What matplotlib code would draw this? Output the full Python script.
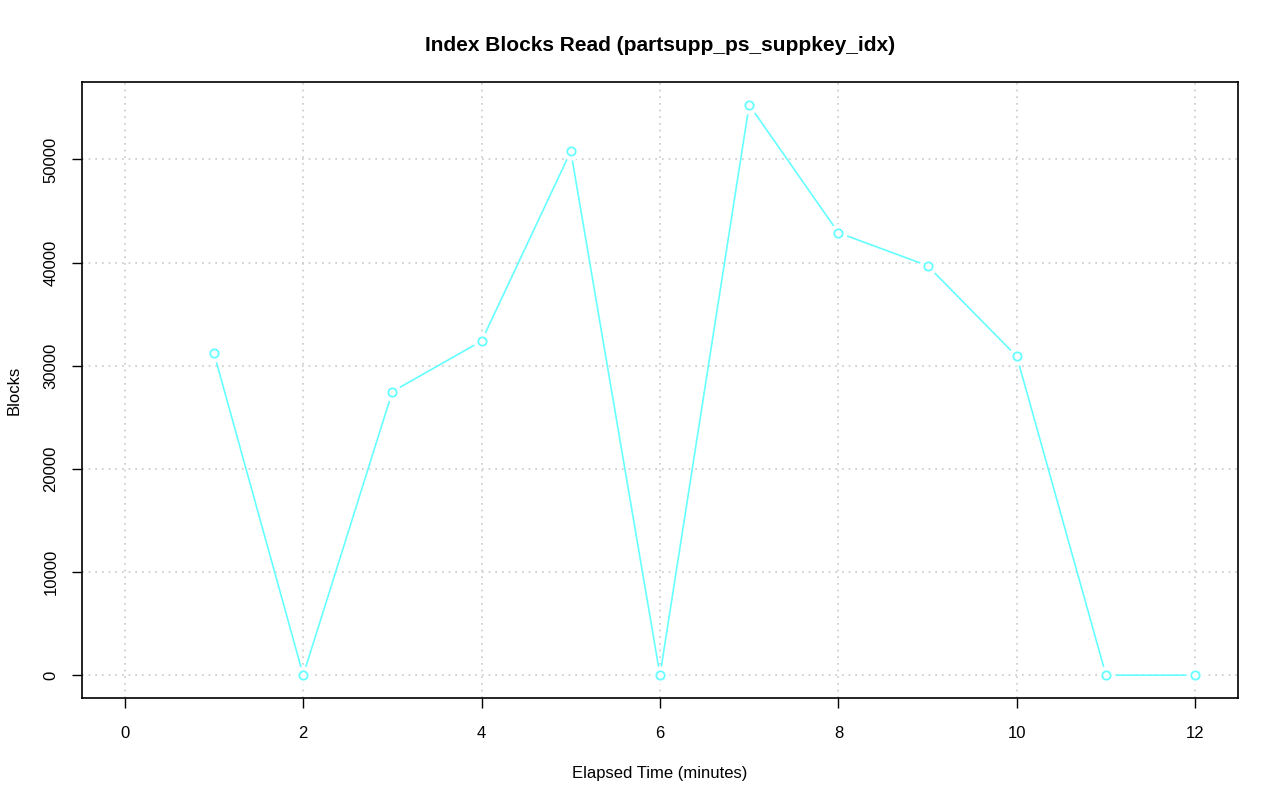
import matplotlib
matplotlib.use("Agg")
import matplotlib.pyplot as plt

minutes = [1, 2, 3, 4, 5, 6, 7, 8, 9, 10, 11, 12]
blocks = [31200, 0, 27500, 32400, 50800, 0, 55300, 42900, 39700, 30900, 0, 0]
x_ticks = [0, 2, 4, 6, 8, 10, 12]
y_ticks = [0, 10000, 20000, 30000, 40000, 50000]

plt.rcParams['font.family'] = ['Liberation Sans', 'DejaVu Sans']

fig = plt.figure(figsize=(12.8, 8.01), dpi=100)
ax = fig.add_axes([82 / 1280, 103 / 801, 1156 / 1280, 616 / 801])

line_color = '#66FFFF'
# R type="b": line with gaps around the points
ax.plot(minutes, blocks, color=line_color, lw=1.2, zorder=2)
ax.plot(minutes, blocks, ls='none', marker='o', ms=12, mfc='white', mec='white', zorder=3)
ax.plot(minutes, blocks, ls='none', marker='o', ms=6, mfc='white', mec=line_color, mew=1.3, zorder=4)

xmax = 12
ymax = max(blocks)
ax.set_xlim(-0.04 * xmax, xmax * 1.04)
ax.set_ylim(-0.04 * ymax, ymax * 1.04)
ax.set_xticks(x_ticks)
ax.set_yticks(y_ticks)
ax.set_yticklabels([str(v) for v in y_ticks], rotation=90, va='center')
ax.tick_params(labelsize=12, length=7, width=1)
ax.tick_params(axis='x', pad=13)
ax.tick_params(axis='y', pad=10)
ax.grid(True, color='#c8c8c8', ls=(0, (1, 3)), lw=1.2, zorder=0)
ax.set_axisbelow(True)
for s in ax.spines.values():
    s.set_linewidth(1.2)

ax.set_title('Index Blocks Read (partsupp_ps_suppkey_idx)', fontsize=15, fontweight='bold', pad=22)
ax.set_xlabel('Elapsed Time (minutes)', fontsize=12, labelpad=18)
ax.set_ylabel('Blocks', fontsize=12, labelpad=16)

fig.savefig('out.png', dpi=100)
